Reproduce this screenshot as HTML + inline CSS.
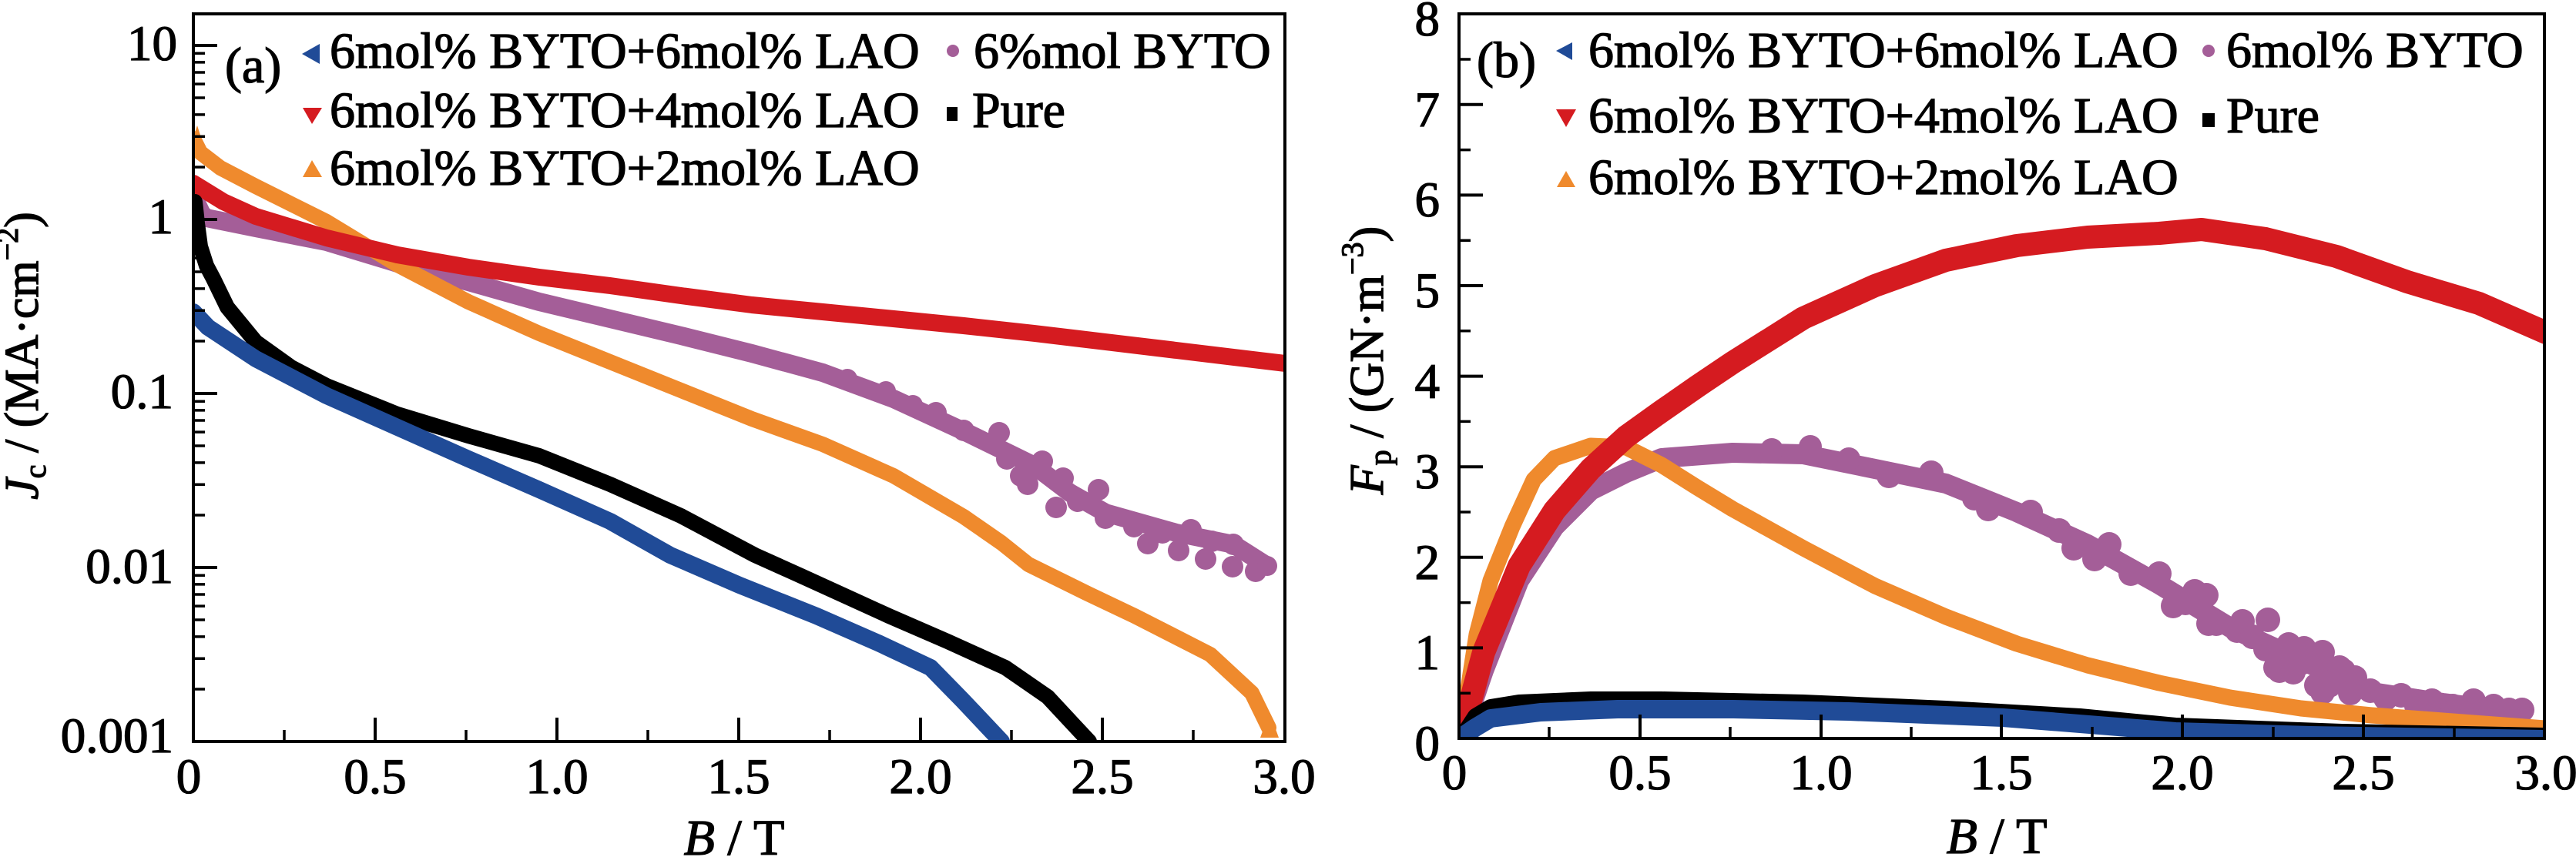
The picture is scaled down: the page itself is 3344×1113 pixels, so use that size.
<!DOCTYPE html>
<html>
<head>
<meta charset="utf-8">
<style>
html,body{margin:0;padding:0;background:#fff;}
svg{display:block;}
text{font-family:"Liberation Serif","Times New Roman",serif;fill:#000;stroke:#000;stroke-width:1.3px;}
</style>
</head>
<body>
<svg width="3344" height="1113" viewBox="0 0 3344 1113" xmlns="http://www.w3.org/2000/svg" font-family="Liberation Serif, serif">
<rect x="0" y="0" width="3344" height="1113" fill="#fff"/>
<defs>
<clipPath id="cl"><rect x="251" y="18" width="1417" height="945"/></clipPath>
<clipPath id="cr"><rect x="1894" y="18" width="1409" height="941"/></clipPath>
</defs>

<!-- ===== LEFT PLOT DATA ===== -->
<g clip-path="url(#cl)" fill="none" stroke-linejoin="round" stroke-linecap="round">
  <polyline stroke="#a45e98" stroke-width="24" points="251,255 262,278 268,283 332,296 424,314 516,342 608,366 700,392 792,414 884,436 976,459 1068,484 1160,518 1251,560 1343,605 1389,640 1435,666 1527,692 1601,707 1645,735"/>
  <g fill="#a45e98" stroke="none">
    <circle cx="1100" cy="492" r="13"/><circle cx="1150" cy="508" r="13"/><circle cx="1185" cy="526" r="13"/>
    <circle cx="1215" cy="536" r="14"/><circle cx="1251" cy="559" r="14"/><circle cx="1297" cy="562" r="14"/>
    <circle cx="1307" cy="596" r="14"/><circle cx="1325" cy="618" r="14"/><circle cx="1353" cy="599" r="14"/>
    <circle cx="1334" cy="629" r="14"/><circle cx="1380" cy="621" r="14"/><circle cx="1371" cy="659" r="14"/>
    <circle cx="1399" cy="651" r="14"/><circle cx="1426" cy="636" r="14"/><circle cx="1435" cy="673" r="14"/>
    <circle cx="1472" cy="684" r="14"/><circle cx="1509" cy="692" r="14"/><circle cx="1546" cy="688" r="14"/>
    <circle cx="1573" cy="703" r="14"/><circle cx="1601" cy="707" r="14"/><circle cx="1490" cy="706" r="14"/>
    <circle cx="1530" cy="715" r="14"/><circle cx="1565" cy="726" r="14"/><circle cx="1600" cy="736" r="14"/>
    <circle cx="1630" cy="742" r="14"/><circle cx="1645" cy="735" r="13"/>
  </g>
  <polyline stroke="#ef8a2d" stroke-width="20" points="251,180 260,198 286,218 332,242 424,288 516,344 608,392 700,433 792,470 884,507 976,544 1068,577 1160,618 1251,671 1300,705 1335,733 1410,770 1473,800 1571,850 1625,900 1647,945"/>
  <polygon fill="#ef8a2d" stroke="none" points="256,163 244,200 268,200"/>
  <polygon fill="#ef8a2d" stroke="none" points="1648,925 1636,958 1660,958"/>
  <polyline stroke="#d51b20" stroke-width="22" points="251,238 290,262 332,281 424,309 516,331 608,347 700,360 792,371 884,384 976,396 1068,405 1160,414 1251,423 1343,433 1435,444 1527,455 1668,472"/>
  <polyline stroke="#000" stroke-width="20" points="253,262 256,290 260,320 268,345 277,362 295,399 332,444 378,477 424,501 516,538 608,566 700,592 792,629 884,670 980,721 1040,748 1154,800 1230,833 1305,867 1360,905 1414,963"/>
  <polyline stroke="#204b97" stroke-width="22" points="251,405 270,425 332,466 424,514 516,555 608,596 700,636 792,677 870,721 960,760 1060,800 1140,835 1208,867 1250,910 1300,963"/>
</g>

<!-- ===== RIGHT PLOT DATA ===== -->
<g clip-path="url(#cr)" fill="none" stroke-linejoin="round" stroke-linecap="round">
  <polyline stroke="#a45e98" stroke-width="26" points="1896,959 1926,871 1972,754 2018,684 2065,637 2111,614 2157,595 2249,588 2341,590 2434,609 2526,628 2618,665 2710,707 2803,759 2895,815 2987,857 3079,899 3171,913 3264,925"/>
  <g fill="#a45e98" stroke="none">
    <circle cx="2300" cy="584" r="15"/><circle cx="2350" cy="580" r="15"/><circle cx="2400" cy="596" r="15"/>
    <circle cx="2452" cy="618" r="16"/><circle cx="2507" cy="614" r="16"/><circle cx="2563" cy="647" r="16"/>
    <circle cx="2581" cy="661" r="16"/><circle cx="2636" cy="665" r="16"/><circle cx="2673" cy="689" r="16"/>
    <circle cx="2692" cy="712" r="16"/><circle cx="2719" cy="726" r="16"/><circle cx="2738" cy="707" r="16"/>
    <circle cx="2766" cy="745" r="16"/><circle cx="2803" cy="745" r="16"/><circle cx="2821" cy="787" r="16"/>
    <circle cx="2849" cy="768" r="16"/><circle cx="2867" cy="810" r="16"/><circle cx="2904" cy="819" r="16"/>
    <circle cx="2941" cy="843" r="16"/><circle cx="2959" cy="871" r="16"/><circle cx="2987" cy="861" r="16"/>
    <circle cx="3015" cy="847" r="16"/><circle cx="3042" cy="871" r="16"/><circle cx="3015" cy="899" r="16"/>
    <circle cx="2837" cy="783" r="16"/><circle cx="2864" cy="773" r="16"/><circle cx="2877" cy="810" r="16"/>
    <circle cx="2911" cy="807" r="16"/><circle cx="2944" cy="805" r="16"/><circle cx="2924" cy="827" r="16"/>
    <circle cx="2971" cy="837" r="16"/><circle cx="2991" cy="842" r="16"/><circle cx="2954" cy="867" r="16"/>
    <circle cx="2977" cy="873" r="16"/><circle cx="3007" cy="890" r="16"/><circle cx="3024" cy="890" r="16"/>
    <circle cx="3037" cy="867" r="16"/><circle cx="3057" cy="880" r="16"/><circle cx="3051" cy="900" r="16"/>
    <circle cx="3077" cy="897" r="16"/><circle cx="3097" cy="907" r="16"/><circle cx="3117" cy="903" r="16"/>
    <circle cx="3137" cy="917" r="16"/><circle cx="3157" cy="910" r="16"/><circle cx="3184" cy="917" r="16"/>
    <circle cx="3211" cy="910" r="16"/><circle cx="3237" cy="917" r="16"/><circle cx="3257" cy="922" r="16"/>
    <circle cx="3274" cy="922" r="16"/>
  </g>
  <polyline stroke="#ef8a2d" stroke-width="21" points="1896,959 1917,824 1935,754 1963,684 1991,623 2018,595 2065,579 2111,581 2157,604 2203,633 2249,661 2341,712 2434,761 2526,801 2618,836 2710,864 2803,887 2895,906 2987,920 3079,929 3171,936 3305,946"/>
  <polyline stroke="#d51b20" stroke-width="30" points="1896,959 1926,847 1972,735 2018,663 2065,609 2111,567 2157,534 2203,502 2249,471 2341,413 2434,371 2526,338 2618,319 2710,308 2803,303 2858,298 2941,310 3033,333 3125,366 3218,394 3305,432"/>
  <polyline stroke="#000" stroke-width="20" points="1896,959 1915,930 1935,918 1972,912 2065,908 2157,908 2341,912 2526,920 2700,930 2824,942 3040,950 3305,955"/>
  <polyline stroke="#204b97" stroke-width="24" points="1896,958 1915,945 1935,933 2000,925 2100,921 2250,921 2400,924 2600,932 2824,950 3000,955 3305,960"/>
</g>

<!-- ===== FRAMES & TICKS ===== -->
<g fill="none" stroke="#000">
  <rect x="251" y="18" width="1417" height="945" stroke-width="4"/>
  <rect x="1894" y="18" width="1409" height="941" stroke-width="4"/>
  <path stroke-width="4" d="M251 963h31 M251 737h31 M251 511h31 M251 285h31 M251 59h31
    M487 963v-31 M723 963v-31 M959 963v-31 M1195 963v-31 M1431 963v-31
    M1894 841.4h31 M1894 723.8h31 M1894 606.2h31 M1894 488.6h31 M1894 371h31 M1894 253.4h31 M1894 135.8h31
    M2129 959v-31 M2364 959v-31 M2598 959v-31 M2833 959v-31 M3068 959v-31"/>
  <path stroke-width="3.5" d="M251 895h15 M251 855.2h15 M251 826.9h15 M251 805h15 M251 787.1h15 M251 772h15 M251 758.9h15 M251 747.3h15
    M251 669h15 M251 629.2h15 M251 600.9h15 M251 579h15 M251 561.1h15 M251 546h15 M251 532.9h15 M251 521.3h15
    M251 443h15 M251 403.2h15 M251 374.9h15 M251 353h15 M251 335.1h15 M251 320h15 M251 306.9h15 M251 295.3h15
    M251 217h15 M251 177.2h15 M251 148.9h15 M251 127h15 M251 109.1h15 M251 94h15 M251 80.9h15 M251 69.3h15
    M369 963v-15 M605 963v-15 M841 963v-15 M1077 963v-15 M1313 963v-15 M1549 963v-15
    M1894 900.2h15 M1894 782.6h15 M1894 665h15 M1894 547.4h15 M1894 429.8h15 M1894 312.2h15 M1894 194.6h15 M1894 77h15
    M2011 959v-15 M2246 959v-15 M2481 959v-15 M2716 959v-15 M2951 959v-15 M3186 959v-15"/>
</g>

<!-- ===== TICK LABELS ===== -->
<g font-size="65" text-anchor="end">
  <text x="230" y="78">10</text>
  <text x="225" y="303">1</text>
  <text x="225" y="530">0.1</text>
  <text x="225" y="757">0.01</text>
  <text x="225" y="977">0.001</text>
  <text x="1869" y="987">0</text>
  <text x="1869" y="869">1</text>
  <text x="1869" y="752">2</text>
  <text x="1869" y="634">3</text>
  <text x="1869" y="517">4</text>
  <text x="1869" y="399">5</text>
  <text x="1869" y="281">6</text>
  <text x="1869" y="164">7</text>
  <text x="1869" y="46">8</text>
</g>
<g font-size="65" text-anchor="middle">
  <text x="245" y="1030">0</text>
  <text x="487" y="1030">0.5</text>
  <text x="723" y="1030">1.0</text>
  <text x="959" y="1030">1.5</text>
  <text x="1195" y="1030">2.0</text>
  <text x="1431" y="1030">2.5</text>
  <text x="1667" y="1030">3.0</text>
  <text x="1888" y="1025">0</text>
  <text x="2129" y="1025">0.5</text>
  <text x="2364" y="1025">1.0</text>
  <text x="2598" y="1025">1.5</text>
  <text x="2833" y="1025">2.0</text>
  <text x="3068" y="1025">2.5</text>
  <text x="3305" y="1025">3.0</text>
</g>

<!-- ===== AXIS TITLES ===== -->
<g font-size="66" text-anchor="middle">
  <text x="953" y="1110"><tspan font-style="italic">B</tspan> / T</text>
  <text x="2592" y="1108"><tspan font-style="italic">B</tspan> / T</text>
</g>
<text font-size="62" text-anchor="middle" transform="translate(49,462) rotate(-90)"><tspan font-style="italic">J</tspan><tspan font-size="40" dy="10">c</tspan><tspan dy="-10"> / (MA·cm</tspan><tspan font-size="40" dy="-26">−2</tspan><tspan dy="26">)</tspan></text>
<text font-size="62" text-anchor="middle" transform="translate(1795,468) rotate(-90)"><tspan font-style="italic">F</tspan><tspan font-size="40" dy="10">p</tspan><tspan dy="-10"> / (GN·m</tspan><tspan font-size="40" dy="-26">−3</tspan><tspan dy="26">)</tspan></text>

<!-- ===== PANEL LABELS ===== -->
<text x="292" y="107" font-size="66">(a)</text>
<text x="1917" y="100" font-size="66">(b)</text>

<!-- ===== LEFT LEGEND ===== -->
<polygon fill="#204b97" points="392,70 415,57 415,83"/>
<polygon fill="#d51b20" points="393,140 418,140 405,161"/>
<polygon fill="#ef8a2d" points="405,208 393,230 418,230"/>
<circle cx="1237" cy="66" r="8" fill="#a45e98"/>
<rect x="1229" y="139" width="14" height="18" fill="#000"/>
<g font-size="66">
  <text x="428" y="88">6mol% BYTO+6mol% LAO</text>
  <text x="428" y="165">6mol% BYTO+4mol% LAO</text>
  <text x="428" y="240">6mol% BYTO+2mol% LAO</text>
  <text x="1264" y="88">6%mol BYTO</text>
  <text x="1262" y="165">Pure</text>
</g>

<!-- ===== RIGHT LEGEND ===== -->
<polygon fill="#204b97" points="2020,66 2041,55 2041,78"/>
<polygon fill="#d51b20" points="2020,142 2046,142 2033,165"/>
<polygon fill="#ef8a2d" points="2033,222 2021,243 2045,243"/>
<circle cx="2867" cy="66" r="8" fill="#a45e98"/>
<rect x="2859" y="147" width="16" height="18" fill="#000"/>
<g font-size="66">
  <text x="2062" y="87">6mol% BYTO+6mol% LAO</text>
  <text x="2062" y="172">6mol% BYTO+4mol% LAO</text>
  <text x="2062" y="252">6mol% BYTO+2mol% LAO</text>
  <text x="2890" y="87">6mol% BYTO</text>
  <text x="2890" y="172">Pure</text>
</g>
</svg>
</body>
</html>
